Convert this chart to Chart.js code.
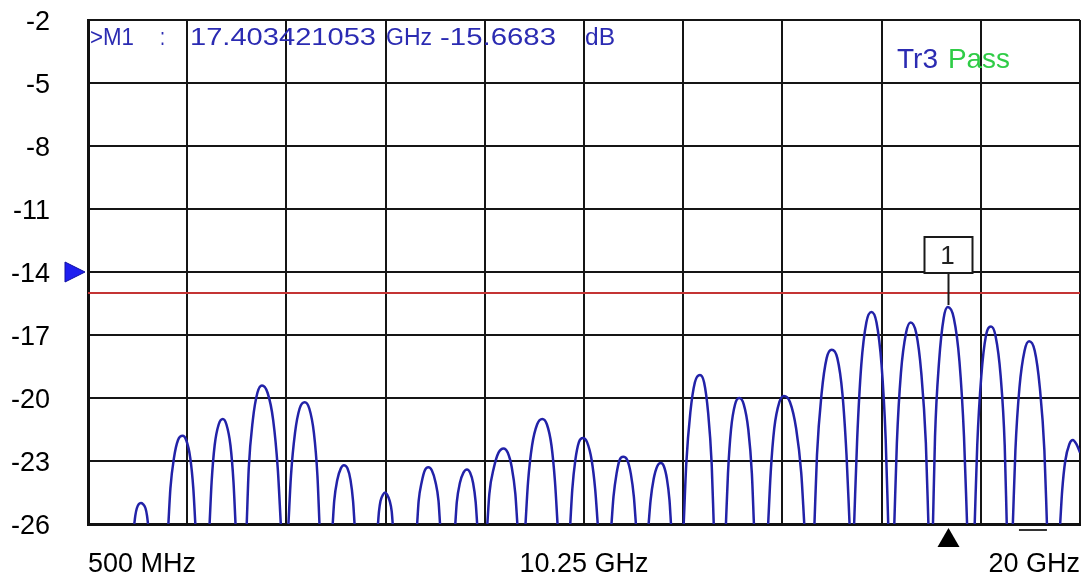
<!DOCTYPE html>
<html>
<head>
<meta charset="utf-8">
<title>Tr3 - S-parameter trace</title>
<script src="https://cdn.jsdelivr.net/npm/chart.js@4.4.1/dist/chart.umd.min.js"></script>
<style>
  html, body { margin: 0; padding: 0; background: #fff; }
  #wrap { width: 1082px; height: 582px; }
</style>
</head>
<body>
<div id="wrap"><canvas id="vna" width="1082" height="582"></canvas></div>
<script>
// ---- axis setup ----
var xGridGHz = [0.5, 2.45, 4.4, 6.35, 8.3, 10.25, 12.2, 14.15, 16.1, 18.05, 20];
var xTickLabels = ['500 MHz', '', '', '', '', '10.25 GHz', '', '', '', '', '20 GHz'];
var yTicksDb = [-26, -23, -20, -17, -14, -11, -8, -5, -2];
var refLevelDb = -14;

// ---- limit line ----
var limitGHz = [0.5, 20];
var limitDb = [-15, -15];

// ---- marker ----
var markerGHz = 17.403421053;
var markerDb = -15.6683;

var lobeGHz = [
  [1.41, 1.43, 1.46, 1.50, 1.54, 1.58, 1.63, 1.66, 1.68],
  [2.08, 2.12, 2.19, 2.27, 2.36, 2.43, 2.51, 2.57, 2.61],
  [2.89, 2.93, 2.99, 3.07, 3.15, 3.22, 3.30, 3.36, 3.40],
  [3.62, 3.66, 3.74, 3.83, 3.92, 4.03, 4.14, 4.23, 4.29],
  [4.44, 4.49, 4.57, 4.66, 4.76, 4.85, 4.94, 5.01, 5.05],
  [5.31, 5.34, 5.40, 5.47, 5.53, 5.60, 5.66, 5.71, 5.74],
  [6.20, 6.22, 6.25, 6.30, 6.34, 6.38, 6.43, 6.47, 6.49],
  [6.97, 7.00, 7.06, 7.12, 7.19, 7.26, 7.33, 7.39, 7.42],
  [7.72, 7.75, 7.81, 7.88, 7.95, 8.01, 8.07, 8.12, 8.15],
  [8.35, 8.39, 8.48, 8.57, 8.67, 8.75, 8.83, 8.90, 8.94],
  [9.10, 9.15, 9.23, 9.33, 9.43, 9.52, 9.61, 9.68, 9.73],
  [9.98, 10.02, 10.08, 10.15, 10.23, 10.31, 10.40, 10.47, 10.52],
  [10.79, 10.83, 10.89, 10.95, 11.02, 11.10, 11.17, 11.23, 11.27],
  [11.52, 11.56, 11.62, 11.69, 11.76, 11.82, 11.88, 11.93, 11.96],
  [12.21, 12.26, 12.34, 12.43, 12.53, 12.61, 12.69, 12.76, 12.80],
  [13.04, 13.08, 13.14, 13.22, 13.30, 13.39, 13.48, 13.55, 13.59],
  [13.87, 13.92, 13.99, 14.09, 14.18, 14.30, 14.42, 14.52, 14.58],
  [14.78, 14.83, 14.92, 15.02, 15.12, 15.23, 15.33, 15.41, 15.47],
  [15.56, 15.62, 15.70, 15.80, 15.90, 16.00, 16.10, 16.18, 16.23],
  [16.35, 16.40, 16.48, 16.58, 16.67, 16.78, 16.88, 16.97, 17.02],
  [17.11, 17.15, 17.23, 17.32, 17.40, 17.52, 17.63, 17.72, 17.78],
  [17.93, 17.98, 18.06, 18.15, 18.25, 18.34, 18.44, 18.52, 18.56],
  [18.68, 18.73, 18.81, 18.91, 19.00, 19.11, 19.21, 19.30, 19.35],
  [19.61, 19.65, 19.71, 19.79, 19.86, 19.93, 20.00]
];
var lobeDb = [
  [-26, -25.6, -25.25, -25.05, -25.0, -25.05, -25.25, -25.6, -26],
  [-26, -24.3, -22.85, -22.0, -21.8, -22.0, -22.85, -24.3, -26],
  [-26, -24.0, -22.25, -21.25, -21.0, -21.25, -22.25, -24.0, -26],
  [-26, -23.35, -21.05, -19.75, -19.4, -19.75, -21.05, -23.35, -26],
  [-26, -23.7, -21.65, -20.5, -20.2, -20.5, -21.65, -23.7, -26],
  [-26, -24.9, -23.9, -23.35, -23.2, -23.35, -23.9, -24.9, -26],
  [-26, -25.4, -24.9, -24.6, -24.5, -24.6, -24.9, -25.4, -26],
  [-26, -24.9, -24.0, -23.45, -23.3, -23.45, -24.0, -24.9, -26],
  [-26, -24.95, -24.05, -23.55, -23.4, -23.55, -24.05, -24.95, -26],
  [-26, -24.55, -23.3, -22.6, -22.4, -22.6, -23.3, -24.55, -26],
  [-26, -24.0, -22.25, -21.25, -21.0, -21.25, -22.25, -24.0, -26],
  [-26, -24.35, -22.95, -22.1, -21.9, -22.1, -22.95, -24.35, -26],
  [-26, -24.7, -23.6, -22.95, -22.8, -22.95, -23.6, -24.7, -26],
  [-26, -24.85, -23.85, -23.25, -23.1, -23.25, -23.85, -24.85, -26],
  [-26, -23.15, -20.7, -19.25, -18.9, -19.25, -20.7, -23.15, -26],
  [-26, -23.6, -21.5, -20.3, -20.0, -20.3, -21.5, -23.6, -26],
  [-26, -23.55, -21.45, -20.2, -19.9, -20.2, -21.45, -23.55, -26],
  [-26, -22.7, -19.8, -18.1, -17.7, -18.1, -19.8, -22.7, -26],
  [-26, -21.95, -18.45, -16.4, -15.9, -16.4, -18.45, -21.95, -26],
  [-26, -22.15, -18.8, -16.9, -16.4, -16.9, -18.8, -22.15, -26],
  [-26, -21.85, -18.25, -16.2, -15.67, -16.2, -18.25, -21.85, -26],
  [-26, -22.25, -18.95, -17.05, -16.6, -17.05, -18.95, -22.25, -26],
  [-26, -22.5, -19.5, -17.75, -17.3, -17.75, -19.5, -22.5, -26],
  [-26, -24.4, -23.0, -22.2, -22.0, -22.2, -22.6]
];

var FONT = '"Liberation Sans", Arial, sans-serif';
var TRACE_BLUE = '#2222a8';
var TEXT_BLUE = '#2b2bb2';
var PASS_GREEN = '#2fcc46';

// join lobes into one dataset; a null point breaks the line between lobes
function buildTrace() {
    var pts = [];
    lobeGHz.forEach(function (fs, i) {
        if (i > 0) pts.push({ x: fs[0], y: null });
        fs.forEach(function (f, j) { pts.push({ x: f, y: lobeDb[i][j] }); });
    });
    return pts;
}
var limitPts = limitGHz.map(function (f, i) { return { x: f, y: limitDb[i] }; });

// draw a text squeezed/stretched between x0 and x1 (the instrument font is wide)
function drawFit(ctx, text, x0, x1, baseline, size, color) {
    ctx.save();
    ctx.font = size + 'px ' + FONT;
    ctx.fillStyle = color;
    ctx.textAlign = 'left';
    ctx.textBaseline = 'alphabetic';
    var w = ctx.measureText(text).width;
    ctx.translate(x0, baseline);
    ctx.scale((x1 - x0) / w, 1);
    ctx.fillText(text, 0, 0);
    ctx.restore();
}

var vnaOverlay = {
    id: 'vnaOverlay',
    afterDraw: function (chart) {
        var ctx = chart.ctx;
        var xs = chart.scales.x, ys = chart.scales.y;
        var area = chart.chartArea;

        // marker readout line
        drawFit(ctx, '>M1', 90, 134, 45, 23, TEXT_BLUE);
        drawFit(ctx, ':', 160, 165, 45, 23, TEXT_BLUE);
        drawFit(ctx, markerGHz.toFixed(9), 190, 376, 45, 23, TEXT_BLUE);
        drawFit(ctx, 'GHz', 386, 432, 45, 23, TEXT_BLUE);
        drawFit(ctx, markerDb.toFixed(4), 440, 556, 45, 23, TEXT_BLUE);
        drawFit(ctx, 'dB', 585, 615, 45, 23, TEXT_BLUE);

        // trace status
        drawFit(ctx, 'Tr3', 897, 938, 68, 28, TEXT_BLUE);
        drawFit(ctx, 'Pass', 948, 1010, 68, 28, PASS_GREEN);

        // marker flag "1"
        var mx = Math.round(xs.getPixelForValue(markerGHz)) + 0.5;
        var my = ys.getPixelForValue(markerDb);
        ctx.save();
        ctx.strokeStyle = '#1a1a1a';
        ctx.lineWidth = 2;
        ctx.fillStyle = '#fff';
        ctx.fillRect(mx - 24, 237, 48, 36);
        ctx.strokeRect(mx - 24, 237, 48, 36);
        ctx.beginPath();
        ctx.moveTo(mx, 273);
        ctx.lineTo(mx, my - 2);
        ctx.stroke();
        ctx.fillStyle = '#222';
        ctx.font = '26px ' + FONT;
        ctx.textAlign = 'center';
        ctx.textBaseline = 'alphabetic';
        ctx.fillText('1', mx - 1, 264);

        // marker position triangle under the axis
        ctx.fillStyle = '#000';
        ctx.beginPath();
        ctx.moveTo(mx, area.bottom + 4);
        ctx.lineTo(mx + 11, area.bottom + 23);
        ctx.lineTo(mx - 11, area.bottom + 23);
        ctx.closePath();
        ctx.fill();

        // reference level arrow at the left
        var ry = ys.getPixelForValue(refLevelDb);
        ctx.fillStyle = '#1e1ef0';
        ctx.strokeStyle = '#1010a0';
        ctx.lineWidth = 1;
        ctx.beginPath();
        ctx.moveTo(65, ry - 10);
        ctx.lineTo(85, ry);
        ctx.lineTo(65, ry + 10);
        ctx.closePath();
        ctx.fill();
        ctx.stroke();

        // small bar under the axis near the right end
        ctx.strokeStyle = '#333';
        ctx.lineWidth = 2;
        ctx.beginPath();
        ctx.moveTo(xs.getPixelForValue(18.8), area.bottom + 6);
        ctx.lineTo(xs.getPixelForValue(19.35), area.bottom + 6);
        ctx.stroke();
        ctx.restore();
    }
};

Chart.defaults.font.family = FONT;

new Chart(document.getElementById('vna'), {
    type: 'line',
    data: {
        datasets: [
            { data: limitPts, borderColor: '#c43434', borderWidth: 2, pointRadius: 0, order: 2 },
            { data: buildTrace(), borderColor: TRACE_BLUE, borderWidth: 2.5, pointRadius: 0,
              spanGaps: false, cubicInterpolationMode: 'monotone', order: 1 }
        ]
    },
    options: {
        responsive: false,
        animation: false,
        devicePixelRatio: 1,
        layout: { padding: { top: 20, right: 2, left: 0, bottom: 0 } },
        plugins: { legend: { display: false }, tooltip: { enabled: false } },
        scales: {
            x: {
                type: 'linear', min: 0.5, max: 20,
                afterBuildTicks: function (s) { s.ticks = xGridGHz.map(function (v) { return { value: v }; }); },
                afterFit: function (s) { s.height = 58; s.paddingLeft = 0; s.paddingRight = 0; },
                grid: { color: '#151515', lineWidth: 2, drawTicks: false },
                border: { color: '#111', width: 3 },
                ticks: {
                    autoSkip: false, maxRotation: 0, align: 'inner', padding: 24,
                    color: '#000', font: { size: 27 },
                    callback: function (v, i) { return xTickLabels[i]; }
                }
            },
            y: {
                min: -26, max: -2,
                afterBuildTicks: function (s) { s.ticks = yTicksDb.map(function (v) { return { value: v }; }); },
                afterFit: function (s) { s.width = 88; s.paddingTop = 0; s.paddingBottom = 0; },
                grid: { color: '#151515', lineWidth: 2, drawTicks: false },
                border: { color: '#111', width: 3 },
                ticks: {
                    padding: 38, labelOffset: 3, color: '#000', font: { size: 27 },
                    callback: function (v) { return String(v); }
                }
            }
        }
    },
    plugins: [vnaOverlay]
});
</script>
</body>
</html>
